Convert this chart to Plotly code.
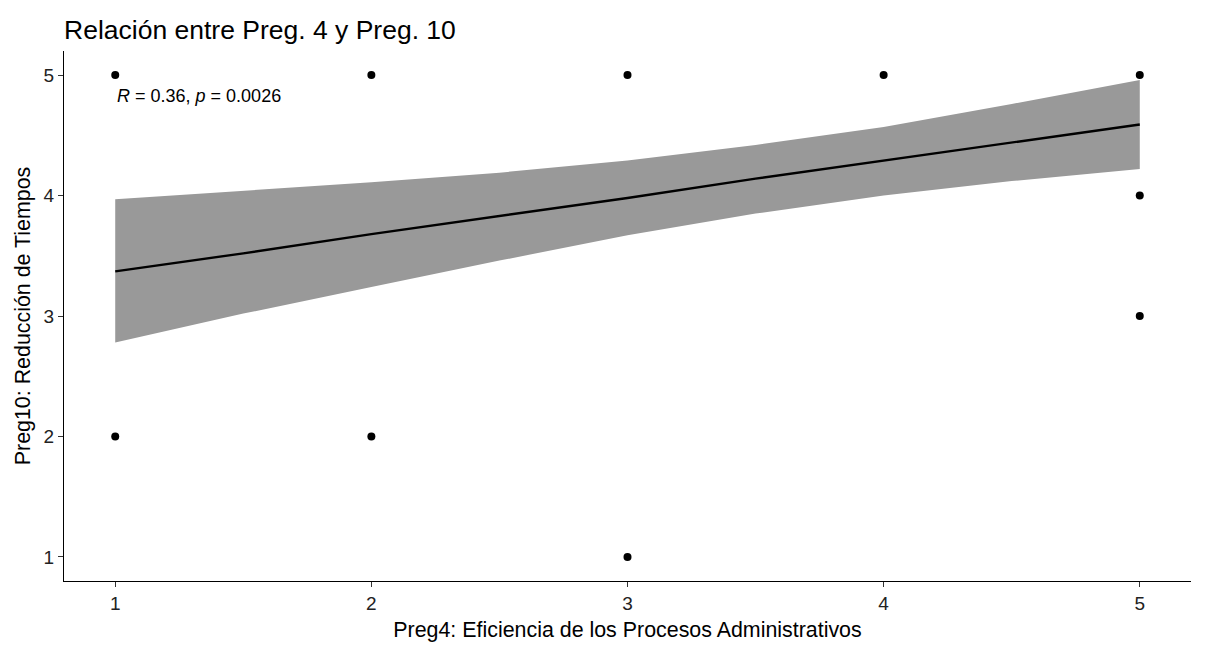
import plotly.graph_objects as go

# observed points
px = [1, 1, 2, 2, 3, 3, 4, 5, 5, 5]
py = [5, 2, 5, 2, 5, 1, 5, 5, 4, 3]

# fitted line and confidence band
fit_x = [1, 1.5, 2, 2.5, 3, 3.5, 4, 4.5, 5]
fit_y = [3.37, 3.52, 3.68, 3.83, 3.98, 4.14, 4.29, 4.44, 4.59]
ci_hi = [3.97, 4.04, 4.11, 4.19, 4.29, 4.42, 4.57, 4.76, 4.96]
ci_lo = [2.78, 3.02, 3.24, 3.46, 3.67, 3.85, 4.00, 4.12, 4.22]

ticks = [1, 2, 3, 4, 5]

FONT = "Liberation Sans, Arial"

fig = go.Figure()
fig.add_trace(go.Scatter(x=fit_x + fit_x[::-1], y=ci_hi + ci_lo[::-1], fill="toself",
                         fillcolor="#999999", line=dict(width=0), mode="lines",
                         hoverinfo="skip", showlegend=False))
fig.add_trace(go.Scatter(x=fit_x, y=fit_y, mode="lines", line=dict(color="black", width=2.4),
                         showlegend=False))
fig.add_trace(go.Scatter(x=px, y=py, mode="markers", marker=dict(color="black", size=8),
                         showlegend=False))

fig.add_annotation(x=1, y=4.83, xref="x", yref="y", xanchor="left", yanchor="middle",
                   text="<i>R</i> = 0.36, <i>p</i> = 0.0026", showarrow=False,
                   font=dict(size=18, color="black", family=FONT))

axis_common = dict(showgrid=False, zeroline=False, showline=True, linecolor="black", linewidth=1.2,
                   ticks="outside", ticklen=5, tickcolor="#333333", tickvals=ticks,
                   automargin=False,
                   tickfont=dict(size=19, color="#222222", family=FONT))
fig.update_layout(
    width=1192, height=634,
    paper_bgcolor="white", plot_bgcolor="white",
    margin=dict(l=56, r=9, t=43, b=61),
    font=dict(family=FONT, color="black"),
    title=dict(text="Relación entre Preg. 4 y Preg. 10", x=56/1192, xanchor="left",
               y=1 - 22/634, yanchor="middle", font=dict(size=26.5, color="black")),
    xaxis=dict(range=[0.8, 5.2], title=dict(text="Preg4: Eficiencia de los Procesos Administrativos",
                                            font=dict(size=21.4), standoff=9), **axis_common),
    yaxis=dict(range=[0.8, 5.2], title=dict(text="Preg10: Reducción de Tiempos",
                                            font=dict(size=21.4), standoff=7), **axis_common),
)
fig.write_html("out.html")
